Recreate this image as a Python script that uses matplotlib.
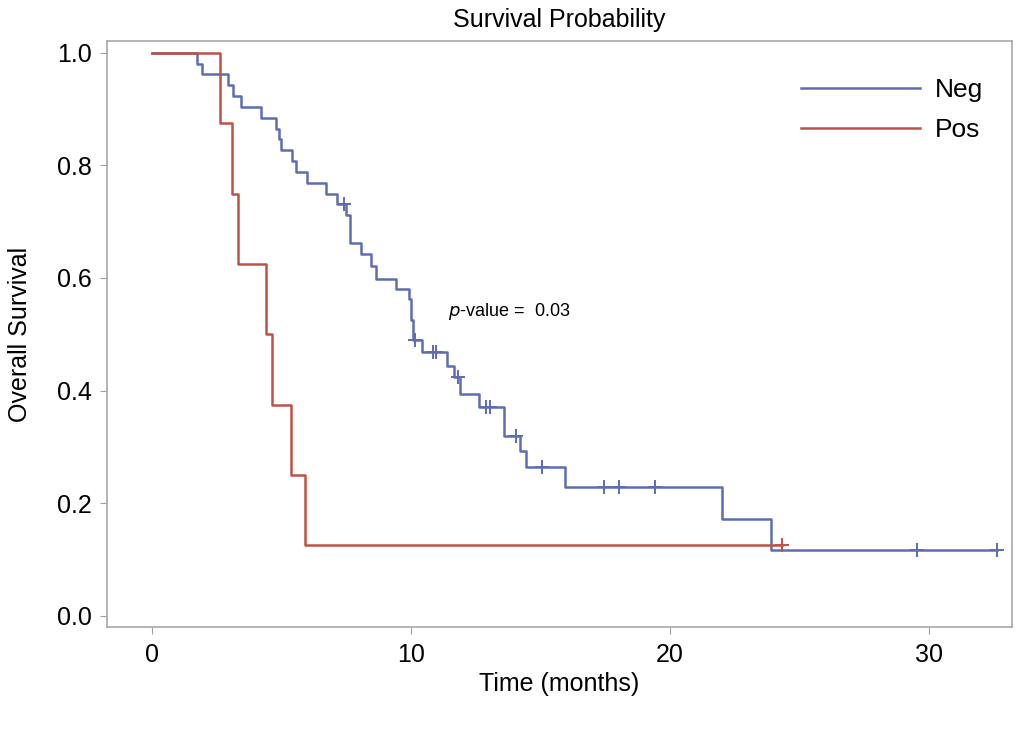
import numpy as np
import matplotlib
matplotlib.use("Agg")
import matplotlib.pyplot as plt

plt.rcParams['font.family'] = ['Liberation Sans', 'DejaVu Sans']

# Kaplan-Meier curves (time in months, survival after the step)
neg_times = [1.73, 1.93, 2.96, 3.14, 3.44, 4.21, 4.78, 4.90, 4.98, 5.40, 5.56, 6.00,
             6.71, 7.14, 7.50, 7.65, 8.06, 8.45, 8.64, 9.41, 9.92, 10.00, 10.10,
             10.42, 11.40, 11.66, 11.90, 12.62, 13.58, 14.20, 14.45, 15.96, 22.00, 23.90]
neg_surv = [0.981, 0.962, 0.942, 0.923, 0.904, 0.885, 0.865, 0.846, 0.827, 0.808, 0.788, 0.769,
            0.750, 0.731, 0.711, 0.662, 0.642, 0.621, 0.599, 0.581, 0.562, 0.525, 0.489,
            0.468, 0.444, 0.424, 0.394, 0.370, 0.320, 0.292, 0.264, 0.228, 0.171, 0.116]
neg_censor = [7.42, 10.15, 10.84, 10.97, 11.82, 12.90, 13.07, 14.05, 15.06,
              17.44, 18.05, 19.43, 29.55, 32.63]
neg_end = 32.63

pos_times = [2.62, 3.09, 3.32, 4.41, 4.65, 5.37, 5.91]
pos_surv = [0.875, 0.750, 0.625, 0.500, 0.375, 0.250, 0.125]
pos_censor = [24.33]
pos_end = 24.33

groups = ["Neg", "Pos"]
colors = ["#5d6db0", "#bf5246"]

p_text = "0.03"


def step_at(t, times, surv):
    i = np.searchsorted(times, t, side="right")
    return 1.0 if i == 0 else surv[i - 1]


fig = plt.figure(figsize=(10.21, 7.32), dpi=100)
ax = fig.add_axes([0.1048, 0.1428, 0.8862, 0.8012])

curves = [(neg_times, neg_surv, neg_censor, neg_end),
          (pos_times, pos_surv, pos_censor, pos_end)]
for (times, surv, cens, end), name, col in zip(curves, groups, colors):
    x = [0] + list(times) + [end]
    y = [1.0] + list(surv) + [surv[-1]]
    ax.step(x, y, where="post", color=col, lw=1.8, label=name)
    cy = [step_at(c, times, surv) for c in cens]
    ax.plot(cens, cy, ls="none", marker="+", ms=10, mew=1.4, color=col)

ax.text(11.45, 0.541, r"$\it{p}$-value =  " + p_text, fontsize=13, va="center", ha="left")

ax.set_xlim(-1.73, 33.2)
ax.set_ylim(-0.021, 1.021)
ax.set_xticks([0, 10, 20, 30])
ax.set_yticks(np.arange(0, 1.01, 0.2))
ax.set_yticklabels([f"{v:.1f}" for v in np.arange(0, 1.01, 0.2)])
ax.tick_params(length=5, color="#a0a0a0", labelsize=18, pad=6)
for s in ax.spines.values():
    s.set_color("#a8a8a8")
    s.set_linewidth(1.2)

ax.set_title("Survival Probability", fontsize=18, pad=10)
ax.set_xlabel("Time (months)", fontsize=18, labelpad=4)
ax.set_ylabel("Overall Survival", fontsize=18, labelpad=18)

ax.legend(loc="upper right", bbox_to_anchor=(983 / 1021, 1 - 78 / 732),
          bbox_transform=fig.transFigure, frameon=False, fontsize=19,
          handlelength=4.5, handletextpad=0.55, labelspacing=0.62, borderpad=0,
          borderaxespad=0)

fig.savefig("out.png", dpi=100)
